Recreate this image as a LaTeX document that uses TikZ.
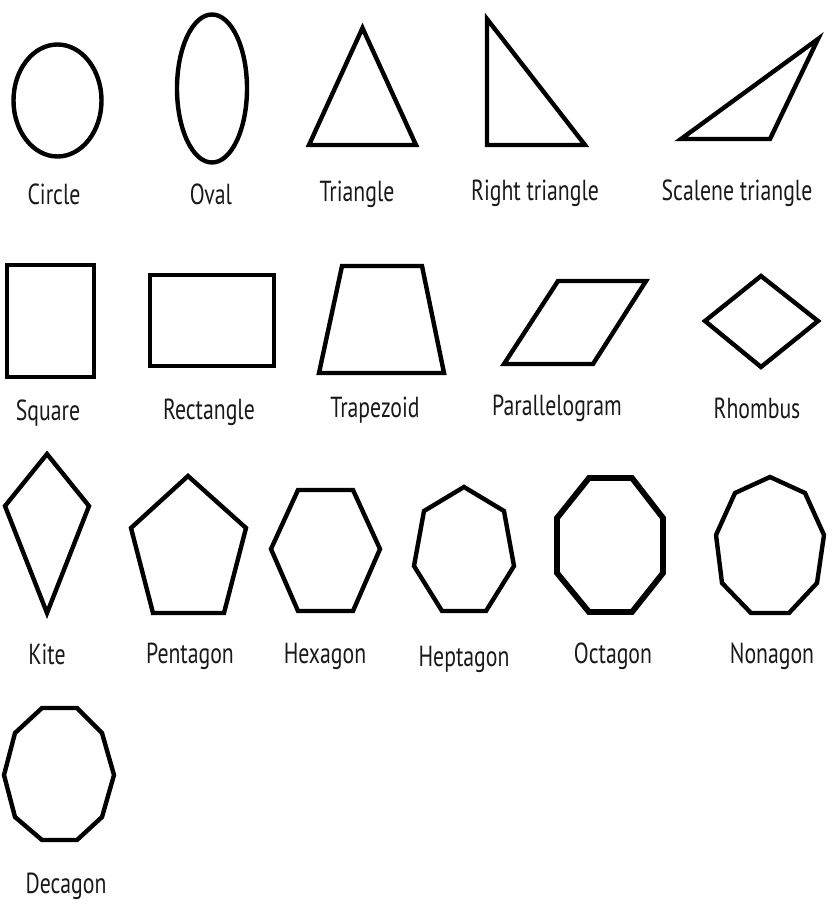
\documentclass[tikz,border=0pt]{standalone}
\usepackage{fontspec}
\setmainfont{PT Sans}[FakeStretch=0.75]
\begin{document}
\begin{tikzpicture}[x=1pt,y=-1pt,
  shp/.style={draw=black,line width=4.4pt,line join=miter},
  lbl/.style={font=\fontsize{29}{32}\selectfont,text=black!90,inner sep=0pt,anchor=center}]
\useasboundingbox (0,0) rectangle (837,909);
% row 1
\draw[shp] (57.5,100.5) ellipse [x radius=44, y radius=56];
\draw[shp] (212,88.5) ellipse [x radius=35, y radius=74];
\draw[shp] (362.5,28) -- (309,145) -- (416,145) -- cycle;
\draw[shp] (487,19) -- (487,145) -- (585,145) -- cycle;
\draw[shp] (681,139) -- (770,139) -- (818,39) -- cycle;
\node[lbl] (circle) at (54,194) {Circle};
\node[lbl] (oval) at (211,194) {Oval};
\node[lbl] (triangle) at (357,194) {Triangle};
\node[lbl] (right) at (535,193) {Right triangle};
\node[lbl] (scalene) at (737,193) {Scalene triangle};
% row 2
\draw[shp] (7,265) rectangle (94,377);
\draw[shp] (150,275) rectangle (274,366);
\draw[shp] (342,266) -- (422,266) -- (444,373) -- (319,373) -- cycle;
\draw[shp] (558,281) -- (646,281) -- (593,364) -- (504,364) -- cycle;
\draw[shp] (705,321) -- (761,276) -- (818,321) -- (761,367) -- cycle;
\node[lbl] (square) at (48,413) {Square};
\node[lbl] (rectangle) at (209,412) {Rectangle};
\node[lbl] (trapezoid) at (375,410) {Trapezoid};
\node[lbl] (parallelogram) at (557,408) {Parallelogram};
\node[lbl] (rhombus) at (757,408) {Rhombus};
% row 3
\draw[shp] (47,454) -- (89,506) -- (47,613) -- (5,506) -- cycle;
\draw[shp] (188,476) -- (246,528) -- (224,613) -- (153,613) -- (131,528) -- cycle;
\draw[shp] (298,490) -- (353,490) -- (380,549) -- (353,611) -- (298,611) -- (271,549) -- cycle;
\draw[shp] (464,487) -- (504,511) -- (514,566) -- (486,611) -- (442,611) -- (414,566) -- (424,511) -- cycle;
\draw[shp,line width=5.8pt] (589,478) -- (632,478) -- (663,518) -- (663,573) -- (632,612) -- (589,612) -- (557,573) -- (557,518) -- cycle;
\draw[shp] (770,477) -- (805,493) -- (824,535) -- (817,583) -- (789,613) -- (751,613) -- (722,583) -- (716,535) -- (735,493) -- cycle;
\node[lbl] (kite) at (47,654) {Kite};
\node[lbl] (pentagon) at (190,656) {Pentagon};
\node[lbl] (hexagon) at (325,656) {Hexagon};
\node[lbl] (heptagon) at (464,659) {Heptagon};
\node[lbl] (octagon) at (613,656) {Octagon};
\node[lbl] (nonagon) at (772,656) {Nonagon};
% row 4
\draw[shp] (42,708) -- (77,708) -- (102,733) -- (114,775) -- (102,817) -- (77,840) -- (42,840) -- (15,817) -- (4,775) -- (15,733) -- cycle;
\node[lbl] (decagon) at (66,886) {Decagon};
\end{tikzpicture}
\end{document}
